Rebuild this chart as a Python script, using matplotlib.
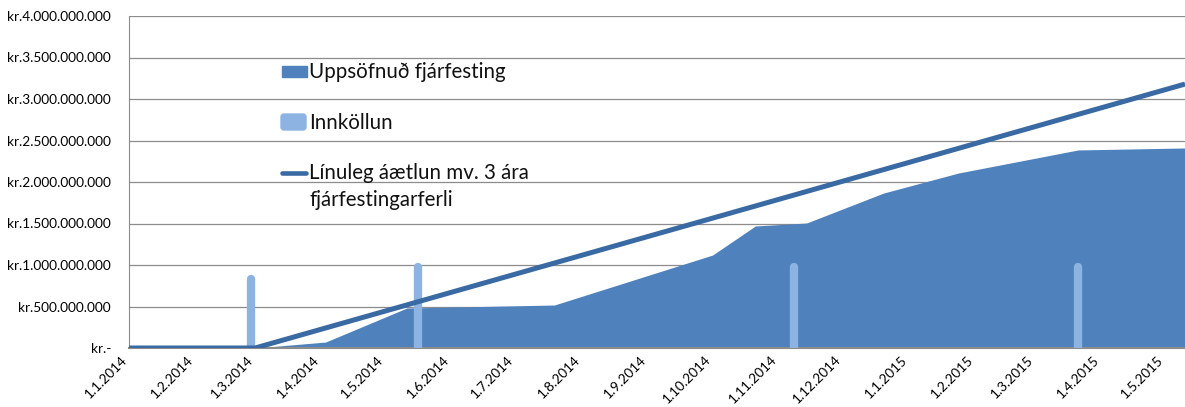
import matplotlib
matplotlib.use('Agg')
import matplotlib.pyplot as plt
import matplotlib.transforms as mtransforms
from matplotlib.patches import Rectangle, FancyBboxPatch
import pandas as pd

plt.rcParams['font.family'] = ['Lato', 'DejaVu Sans']

# uppsöfnuð fjárfesting (area)
area_dates = ['2014-01-01', '2014-03-01', '2014-04-03', '2014-05-11', '2014-07-19', '2014-10-01',
              '2014-10-21', '2014-11-14', '2014-12-20', '2015-01-24', '2015-03-21', '2015-05-10']
area_vals = [0, 0, 72e6, 482e6, 518e6, 1120e6, 1470e6, 1506e6, 1867e6, 2108e6, 2386e6, 2410e6]

# innköllun (bars)
bar_dates = ['2014-02-27', '2014-05-16', '2014-11-08', '2015-03-21']
bar_vals = [880e6, 1020e6, 1020e6, 1020e6]

# línuleg áætlun
line_dates = ['2014-01-01', '2014-03-01', '2015-05-10']
line_vals = [0, 0, 3.18e9]

labels = ['Uppsöfnuð fjárfesting', 'Innköllun', 'Línuleg áætlun mv. 3 ára\nfjárfestingarferli']

c_area = '#4F81BD'
c_bar = '#8DB3E2'
c_line = '#3A6AA3'

W, H = 1185, 407
fig = plt.figure(figsize=(W / 100, H / 100), dpi=100)
ax = fig.add_axes([129 / W, 1 - 348 / H, 1 - 129 / W, (348 - 16) / H])

ad = pd.to_datetime(area_dates)
bd = pd.to_datetime(bar_dates)
ld = pd.to_datetime(line_dates)

ax.fill_between(ad, area_vals, 0, color=c_area, lw=0, zorder=2)

# bars as thick lines with round top, top of cap at the value
cap = 4 / 332 * 4e9
for d, v in zip(bd, bar_vals):
    ax.plot([d, d], [-cap, v - cap], color=c_bar, lw=6, solid_capstyle='round', zorder=3)

ax.plot(ld, line_vals, color=c_line, lw=3.6, zorder=4, solid_capstyle='butt')

ax.set_xlim(pd.Timestamp('2014-01-01'), pd.Timestamp('2015-05-10'))
ax.set_ylim(0, 4e9)

ticks = pd.date_range('2014-01-01', '2015-05-01', freq='MS')
ax.set_xticks(ticks)
ax.set_xticklabels([f'{t.day}.{t.month}.{t.year}' for t in ticks], rotation=45, ha='right',
                   fontsize=9.8)
off = mtransforms.ScaledTranslation(5 / 100, 0, fig.dpi_scale_trans)
for lab in ax.get_xticklabels():
    lab.set_transform(lab.get_transform() + off)

yt = [i * 500e6 for i in range(9)]
ax.set_yticks(yt)
ax.set_yticklabels(['kr.-' if v == 0 else 'kr.' + f'{int(v):,}'.replace(',', '.') for v in yt],
                   fontsize=9.8)
ax.tick_params(axis='both', length=0)
ax.tick_params(axis='y', pad=13)
ax.tick_params(axis='x', pad=4)

ax.grid(axis='y', color='#8c8c8c', lw=0.9, zorder=1)
ax.set_axisbelow(True)
for s in ['top', 'right']:
    ax.spines[s].set_visible(False)
ax.spines['left'].set_color('#8c8c8c')
ax.spines['bottom'].set_color('#8c8c8c')
ax.spines['bottom'].set_linewidth(1.5)

# legend drawn in pixel coords
ov = fig.add_axes([0, 0, 1, 1])
ov.set_xlim(0, W)
ov.set_ylim(H, 0)
ov.axis('off')
ov.add_patch(Rectangle((282, 66), 25, 11, color=c_area))
ov.add_patch(FancyBboxPatch((281, 114), 25, 16, boxstyle='round,pad=0,rounding_size=3', color=c_bar))
ov.plot([282, 306], [173, 173], color=c_line, lw=3.3, solid_capstyle='round')
fs = 14.8
ov.text(309, 78, labels[0], fontsize=fs, va='baseline', color='#111111')
ov.text(309, 129, labels[1], fontsize=fs, va='baseline', color='#111111')
l1, l2 = labels[2].split('\n')
ov.text(309, 179, l1, fontsize=fs, va='baseline', color='#111111')
ov.text(309, 206, l2, fontsize=fs, va='baseline', color='#111111')

fig.savefig('out.png', dpi=100)
